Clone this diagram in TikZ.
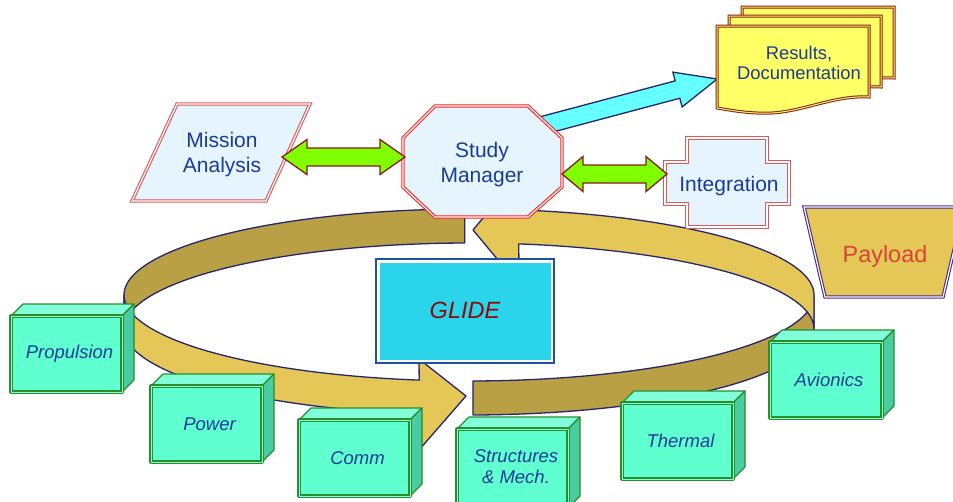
\documentclass[tikz,border=0pt]{standalone}
\usepackage{fontspec}
\setmainfont{Liberation Sans}
\usetikzlibrary{calc}
\definecolor{lightbox}{HTML}{E6F4FD}
\definecolor{txtblue}{HTML}{1A3C96}
\definecolor{redline}{HTML}{D85A5A}
\definecolor{brightred}{HTML}{FF2020}
\definecolor{limefill}{HTML}{80FF00}
\definecolor{darkred}{HTML}{8B1A1A}
\definecolor{cyanarrow}{HTML}{66FFFF}
\definecolor{navyline}{HTML}{26266E}
\definecolor{docyellow}{HTML}{FFFF66}
\definecolor{goldlight}{HTML}{E4C756}
\definecolor{golddark}{HTML}{B9A044}
\definecolor{payborder}{HTML}{4B2A8C}
\definecolor{payred}{HTML}{D8443A}
\definecolor{glidefill}{HTML}{2AD5EC}
\definecolor{glideborder}{HTML}{2050A0}
\definecolor{glidetext}{HTML}{8B0A0A}
\definecolor{boxfront}{HTML}{5FFFD0}
\definecolor{boxtop}{HTML}{80FFDA}
\definecolor{boxside}{HTML}{48CCA2}
\definecolor{boxline}{HTML}{2A8C2A}
\tikzset{
  redshape/.style={fill=lightbox, draw=redline, double=white, double distance=1.2pt, line width=1.1pt},
  octshape/.style={fill=lightbox, draw=brightred, double=white, double distance=1.2pt, line width=1.1pt},
  lbl/.style={text=txtblue, align=center, font=\fontsize{21}{25}\selectfont},
  boxlbl/.style={text=txtblue, align=center, font=\fontsize{18.5}{21}\selectfont\itshape},
  limearr/.style={fill=limefill, draw=darkred, line width=1.3pt, line join=miter},
  cyanarr/.style={fill=cyanarrow, draw=navyline, line width=1.3pt},
  docshape/.style={fill=docyellow, draw=darkred, double=docyellow, double distance=1pt, line width=1pt},
  bandshape/.style={draw=navyline, line width=1.3pt, line join=round},
  boxface/.style={draw=boxline, line width=1.1pt, line join=round},
}
\newcommand\limearrow[3]{%
  \draw[limearr] let \p1=(#1), \p2=(#2) in (\p1) -- (\x1+#3,\y1+17.5pt) -- (\x1+#3,\y1+9pt)
   -- (\x2-#3,\y1+9pt) -- (\x2-#3,\y1+17.5pt) -- (\p2) -- (\x2-#3,\y1-17.5pt) -- (\x2-#3,\y1-9pt)
   -- (\x1+#3,\y1-9pt) -- (\x1+#3,\y1-17.5pt) -- cycle;}
\newcommand\greenbox[6]{%
  \filldraw[boxface, fill=boxtop] (#2,#3) -- (#2+12,#3-12) -- (#4+12,#3-12) -- (#4,#3) -- cycle;
  \filldraw[boxface, fill=boxside] (#4,#3) -- (#4+12,#3-12) -- (#4+12,#5-12) -- (#4,#5) -- cycle;
  \filldraw[boxface, fill=boxfront, double=boxtop, double distance=1pt, line width=1.1pt] (#2,#3) rectangle (#4,#5);
  \node[boxlbl] (#1) at ({(#2+#4)/2+3},{(#3+#5)/2}) {#6};}
\begin{document}
\begin{tikzpicture}[x=1pt,y=-1pt]
\useasboundingbox (0,0) rectangle (953,501);
\clip (0,0) rectangle (953,501);
\fill[white] (0,0) rectangle (953,501);

% ---- loop band ----
\draw[bandshape, fill=golddark]
  plot[domain=269.3:180, samples=80] ({469+345*cos(\x)},{295+86*sin(\x)})
  -- plot[domain=180:269.3, samples=80] ({469+345*cos(\x)},{329+86*sin(\x)}) -- cycle;
\draw[bandshape, fill=golddark]
  plot[domain=89.34:0, samples=80] ({469+345*cos(\x)},{295+86*sin(\x)})
  -- plot[domain=0:89.34, samples=80] ({469+345*cos(\x)},{329+86*sin(\x)}) -- cycle;
\draw[bandshape, fill=goldlight]
  plot[domain=360:278.3, samples=80] ({469+345*cos(\x)},{295+86*sin(\x)})
  -- (519,175) -- (473,230) -- (519,285)
  -- plot[domain=278.3:360, samples=80] ({469+345*cos(\x)},{329+86*sin(\x)}) -- cycle;
\draw[bandshape, fill=goldlight]
  plot[domain=180:98.3, samples=80] ({469+345*cos(\x)},{295+86*sin(\x)})
  -- (419,359) -- (466,396) -- (419,450)
  -- plot[domain=98.3:180, samples=80] ({469+345*cos(\x)},{329+86*sin(\x)}) -- cycle;

% ---- GLIDE ----
\draw[glideborder, fill=white, line width=1.2pt] (376,259) rectangle (554,363);
\fill[glidefill] (379.5,262.5) rectangle (550.5,359.5);
\node[text=glidetext, font=\fontsize{23.5}{26}\selectfont\itshape] (glide) at (465,310) {GLIDE};

% ---- Payload ----
\draw[fill=goldlight, draw=payborder, double=white, double distance=1.2pt, line width=1.1pt]
  (804,207) -- (964,207) -- (943,297) -- (825,297) -- cycle;
\node[text=payred, font=\fontsize{23.4}{26}\selectfont] (payload) at (885,256) {Payload};

% ---- cyan arrow ----
\coordinate (cyst) at (548,124);
\draw[cyanarr, shift={(cyst)}, rotate=14.9]
  (-30,-9) -- (134,-9) -- (134,-18) -- (175,0) -- (134,18) -- (134,9) -- (-30,9) -- cycle;

% ---- Results documents ----
\foreach \dx/\dy in {25/-19, 12/-10, 0/0}{
  \draw[docshape, shift={(\dx,\dy)}] (717,26) -- (869,26) -- (869,97)
    .. controls (835,95) and (805,111) .. (772,113)
    .. controls (748,114) and (730,110) .. (717,108) -- cycle;
}
\node[lbl, font=\fontsize{18.4}{20}\selectfont] (results) at (799,62.5) {Results,\\Documentation};

% ---- Mission Analysis ----
\draw[redshape] (177,104) -- (310,104) -- (266,201) -- (132,201) -- cycle;
\node[lbl] (mission) at (222,155) {Mission\\Analysis};

% ---- Study Manager ----
\draw[octshape] (435,106) -- (528,106) -- (562,138) -- (562,187) -- (528,217) -- (435,217) -- (403,187) -- (403,138) -- cycle;
\node[lbl] (study) at (482,165) {Study\\Manager};

% ---- Integration ----
\draw[redshape] (687,138) -- (767,138) -- (767,162) -- (789,162) -- (789,204) -- (767,204) -- (767,227)
  -- (687,227) -- (687,204) -- (665,204) -- (665,162) -- (687,162) -- cycle;
\node[lbl] (integ) at (729,186) {Integration};

% ---- lime double arrows ----
\coordinate (ga1) at (282,157);
\coordinate (gb1) at (405,157);
\coordinate (ga2) at (562,174);
\coordinate (gb2) at (667,174);
\limearrow{ga1}{gb1}{25pt}
\limearrow{ga2}{gb2}{21pt}

% ---- green boxes ----
\greenbox{prop}{11}{316}{122}{392}{Propulsion}
\greenbox{power}{151}{386}{262}{462}{Power}
\greenbox{comm}{299}{420}{410}{496}{Comm}
\greenbox{struct}{457}{429}{568}{508}{\phantom{S}}
\node[boxlbl] (structlbl) at (516,467) {Structures\\\& Mech.};
\greenbox{thermal}{622}{403}{733}{479}{Thermal}
\greenbox{avionics}{770}{342}{882}{418}{Avionics}
\end{tikzpicture}
\end{document}
